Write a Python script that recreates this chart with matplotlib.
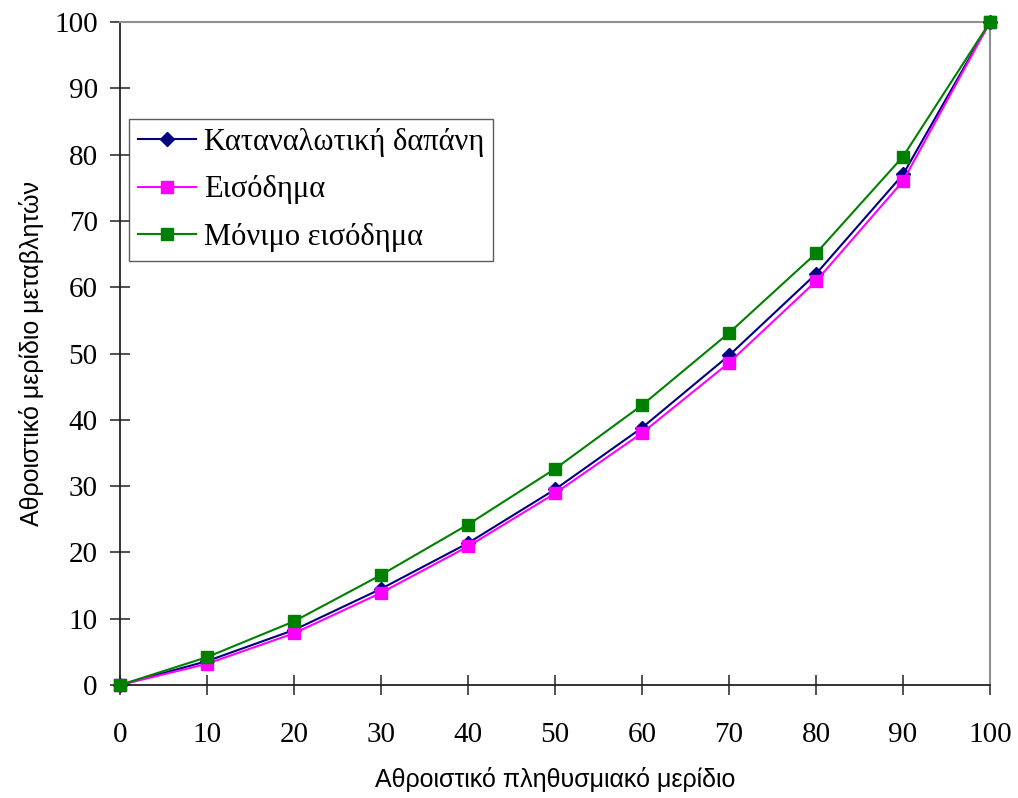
import numpy as np
import matplotlib
matplotlib.use('Agg')
import matplotlib.pyplot as plt

# cumulative population share (%)
population = [0, 10, 20, 30, 40, 50, 60, 70, 80, 90, 100]

# cumulative share of each variable (%)
consumption = [0, 3.6, 8.3, 14.5, 21.4, 29.5, 38.8, 49.7, 62.0, 77.0, 100]
income = [0, 3.2, 7.8, 13.9, 20.9, 28.9, 38.0, 48.6, 60.9, 76.0, 100]
permanent_income = [0, 4.2, 9.6, 16.6, 24.2, 32.6, 42.2, 53.1, 65.1, 79.7, 100]

labels = ['Καταναλωτική δαπάνη', 'Εισόδημα', 'Μόνιμο εισόδημα']

serif = 'Liberation Serif'
sans = 'Liberation Sans'

fig = plt.figure(figsize=(10.18, 7.98), dpi=100)
ax = fig.add_axes([120 / 1018, 1 - 685 / 798, 870 / 1018, 663 / 798])

ax.plot(population, consumption, color='#000080', lw=1.5, marker='D', ms=7,
        label=labels[0], clip_on=False, zorder=3)
ax.plot(population, income, color='#FF00FF', lw=1.5, marker='s', ms=9,
        label=labels[1], clip_on=False, zorder=4)
ax.plot(population, permanent_income, color='#008000', lw=1.5, marker='s', ms=9,
        label=labels[2], clip_on=False, zorder=5)

ax.set_xlim(0, 100)
ax.set_ylim(0, 100)
ax.set_xticks(np.arange(0, 101, 10))
ax.set_yticks(np.arange(0, 101, 10))

for side in ('left', 'bottom'):
    ax.spines[side].set_color('#222222')
    ax.spines[side].set_linewidth(1.3)
for side in ('top', 'right'):
    ax.spines[side].set_color('#909090')
    ax.spines[side].set_linewidth(1.5)

ax.tick_params(axis='both', direction='inout', length=14, width=1.1, color='#222222')
ax.tick_params(axis='x', pad=20)
ax.tick_params(axis='y', pad=9)
for lab in ax.get_xticklabels() + ax.get_yticklabels():
    lab.set_fontfamily(serif)
    lab.set_fontsize(21)

ax.set_xlabel('Αθροιστικό πληθυσμιακό μερίδιο', fontfamily=sans, fontsize=18, labelpad=13)
ax.set_ylabel('Αθροιστικό μερίδιο μεταβλητών', fontfamily=sans, fontsize=18, labelpad=7)

leg = ax.legend(loc='upper left', bbox_to_anchor=(9 / 870, 1 - 97 / 663),
                prop={'family': serif, 'size': 22}, frameon=True, fancybox=False,
                edgecolor='#333333', borderpad=0.3, handlelength=1.9,
                handletextpad=0.25, labelspacing=0.6, borderaxespad=0)
leg.get_frame().set_linewidth(1.0)

fig.savefig('out.png', dpi=100)
